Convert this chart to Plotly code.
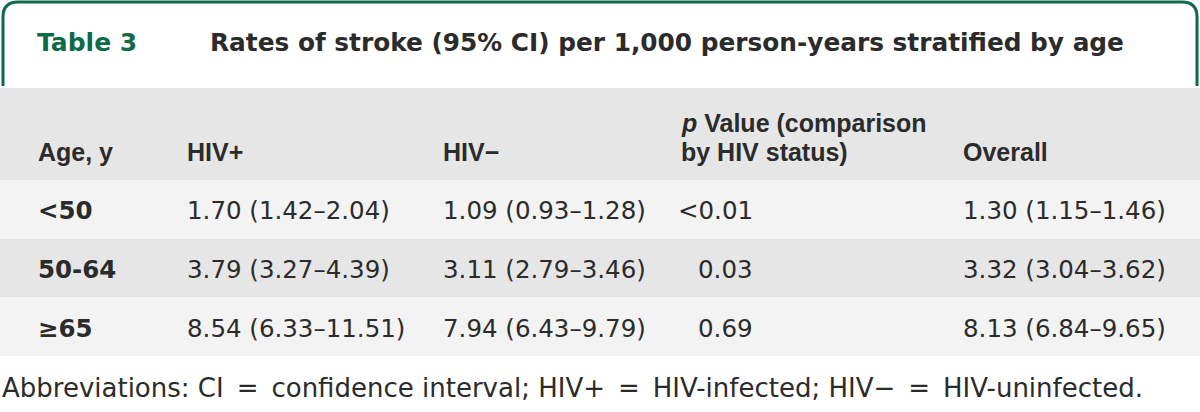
import plotly.graph_objects as go

# ---------------- data ----------------
table_label = "Table 3"
table_title = "Rates of stroke (95% CI) per 1,000 person-years stratified by age"
column_headers = ["Age, y", "HIV+", "HIV−", "<i>p</i> Value (comparison<br>by HIV status)", "Overall"]
age_groups = ["<50", "50-64", "≥65"]
hiv_pos = ["1.70 (1.42–2.04)", "3.79 (3.27–4.39)", "8.54 (6.33–11.51)"]
hiv_neg = ["1.09 (0.93–1.28)", "3.11 (2.79–3.46)", "7.94 (6.43–9.79)"]
p_values = ["<0.01", "0.03", "0.69"]
overall = ["1.30 (1.15–1.46)", "3.32 (3.04–3.62)", "8.13 (6.84–9.65)"]
footnote = "Abbreviations: CI\u2002=\u2002confidence interval; HIV+\u2002=\u2002HIV-infected; HIV−\u2002=\u2002HIV-uninfected."

# ---------------- style / layout ----------------
W, H = 1200, 412
GREEN = "#0f6b47"
TEXT = "#2b2b2b"
HEAD_FILL = "#e6e6e6"
LIGHT = "#f2f3f2"
DARK = "#e6e6e6"
BODY_FONT = "DejaVu Sans"
HEAD_FONT = "Liberation Sans"

HEADER_TOP = 88
HEADER_H = 92
ROW_H = 58.67
COL_X = [36, 185, 441, 679, 961]      # left edge of the text in each column
P_RIGHT = 755                          # p values are right-aligned here
HEADER_BASE_CENTER = 152               # centre of the last header line
HEADER_LINE_GAP = 29

columns = [age_groups, hiv_pos, hiv_neg, p_values, overall]
n_rows = len(age_groups)

fig = go.Figure()

# row backgrounds (header band + striped body rows)
band_centers = [HEADER_TOP + HEADER_H / 2] + [HEADER_TOP + HEADER_H + ROW_H * (i + 0.5) for i in range(n_rows)]
band_heights = [HEADER_H] + [ROW_H] * n_rows
band_colors = [HEAD_FILL] + [LIGHT if i % 2 == 0 else DARK for i in range(n_rows)]
fig.add_trace(go.Bar(
    y=band_centers, x=[W] * len(band_centers), base=0, width=band_heights,
    orientation="h", marker=dict(color=band_colors, line=dict(width=0)),
    hoverinfo="skip", showlegend=False,
))

# header texts
for cx, head in zip(COL_X, column_headers):
    lines = head.split("<br>")
    for k, line in enumerate(reversed(lines)):
        fig.add_annotation(
            x=cx, y=HEADER_BASE_CENTER - k * HEADER_LINE_GAP, xref="x", yref="y",
            xanchor="left", yanchor="middle", showarrow=False,
            text=f"<b>{line}</b>",
            font=dict(family=HEAD_FONT, size=25, color=TEXT),
        )

# body texts
for ci, (cx, col) in enumerate(zip(COL_X, columns)):
    for ri, val in enumerate(col):
        yc = HEADER_TOP + HEADER_H + ROW_H * (ri + 0.5) + 1.5
        if ci == 0:
            txt, xa, xx = f"<b>{val}</b>", "left", cx
        elif col is p_values:
            txt, xa, xx = val, "right", P_RIGHT
        else:
            txt, xa, xx = val, "left", cx
        fig.add_annotation(
            x=xx, y=yc, xref="x", yref="y", xanchor=xa, yanchor="middle",
            showarrow=False, text=txt,
            font=dict(family=BODY_FONT, size=24.5, color=TEXT),
        )

# green tab border
r = 15
path = (
    f"M 3,86 L 3,{2 + r} Q 3,2 {3 + r},2 "
    f"L {1197 - r},2 Q 1197,2 1197,{2 + r} L 1197,86"
)
fig.add_shape(type="path", path=path, xref="x", yref="y",
              line=dict(color=GREEN, width=3))

fig.add_annotation(x=35, y=42, xref="x", yref="y", xanchor="left", yanchor="middle",
                   text=f"<b>{table_label}</b>", showarrow=False,
                   font=dict(family=BODY_FONT, size=25, color=GREEN))
fig.add_annotation(x=208, y=42, xref="x", yref="y", xanchor="left", yanchor="middle",
                   text=f"<b>{table_title}</b>", showarrow=False,
                   font=dict(family=BODY_FONT, size=24.8, color=TEXT))
fig.add_annotation(x=0, y=388, xref="x", yref="y", xanchor="left", yanchor="middle",
                   text=footnote, showarrow=False,
                   font=dict(family=BODY_FONT, size=26, color=TEXT))

fig.update_layout(
    width=W, height=H,
    margin=dict(l=0, r=0, t=0, b=0),
    paper_bgcolor="white",
    plot_bgcolor="white",
    bargap=0,
    xaxis=dict(range=[0, W], visible=False, fixedrange=True),
    yaxis=dict(range=[H, 0], visible=False, fixedrange=True),
)

fig.write_html("out.html", config={"displayModeBar": False},
               post_script="document.body.style.margin='0';")
